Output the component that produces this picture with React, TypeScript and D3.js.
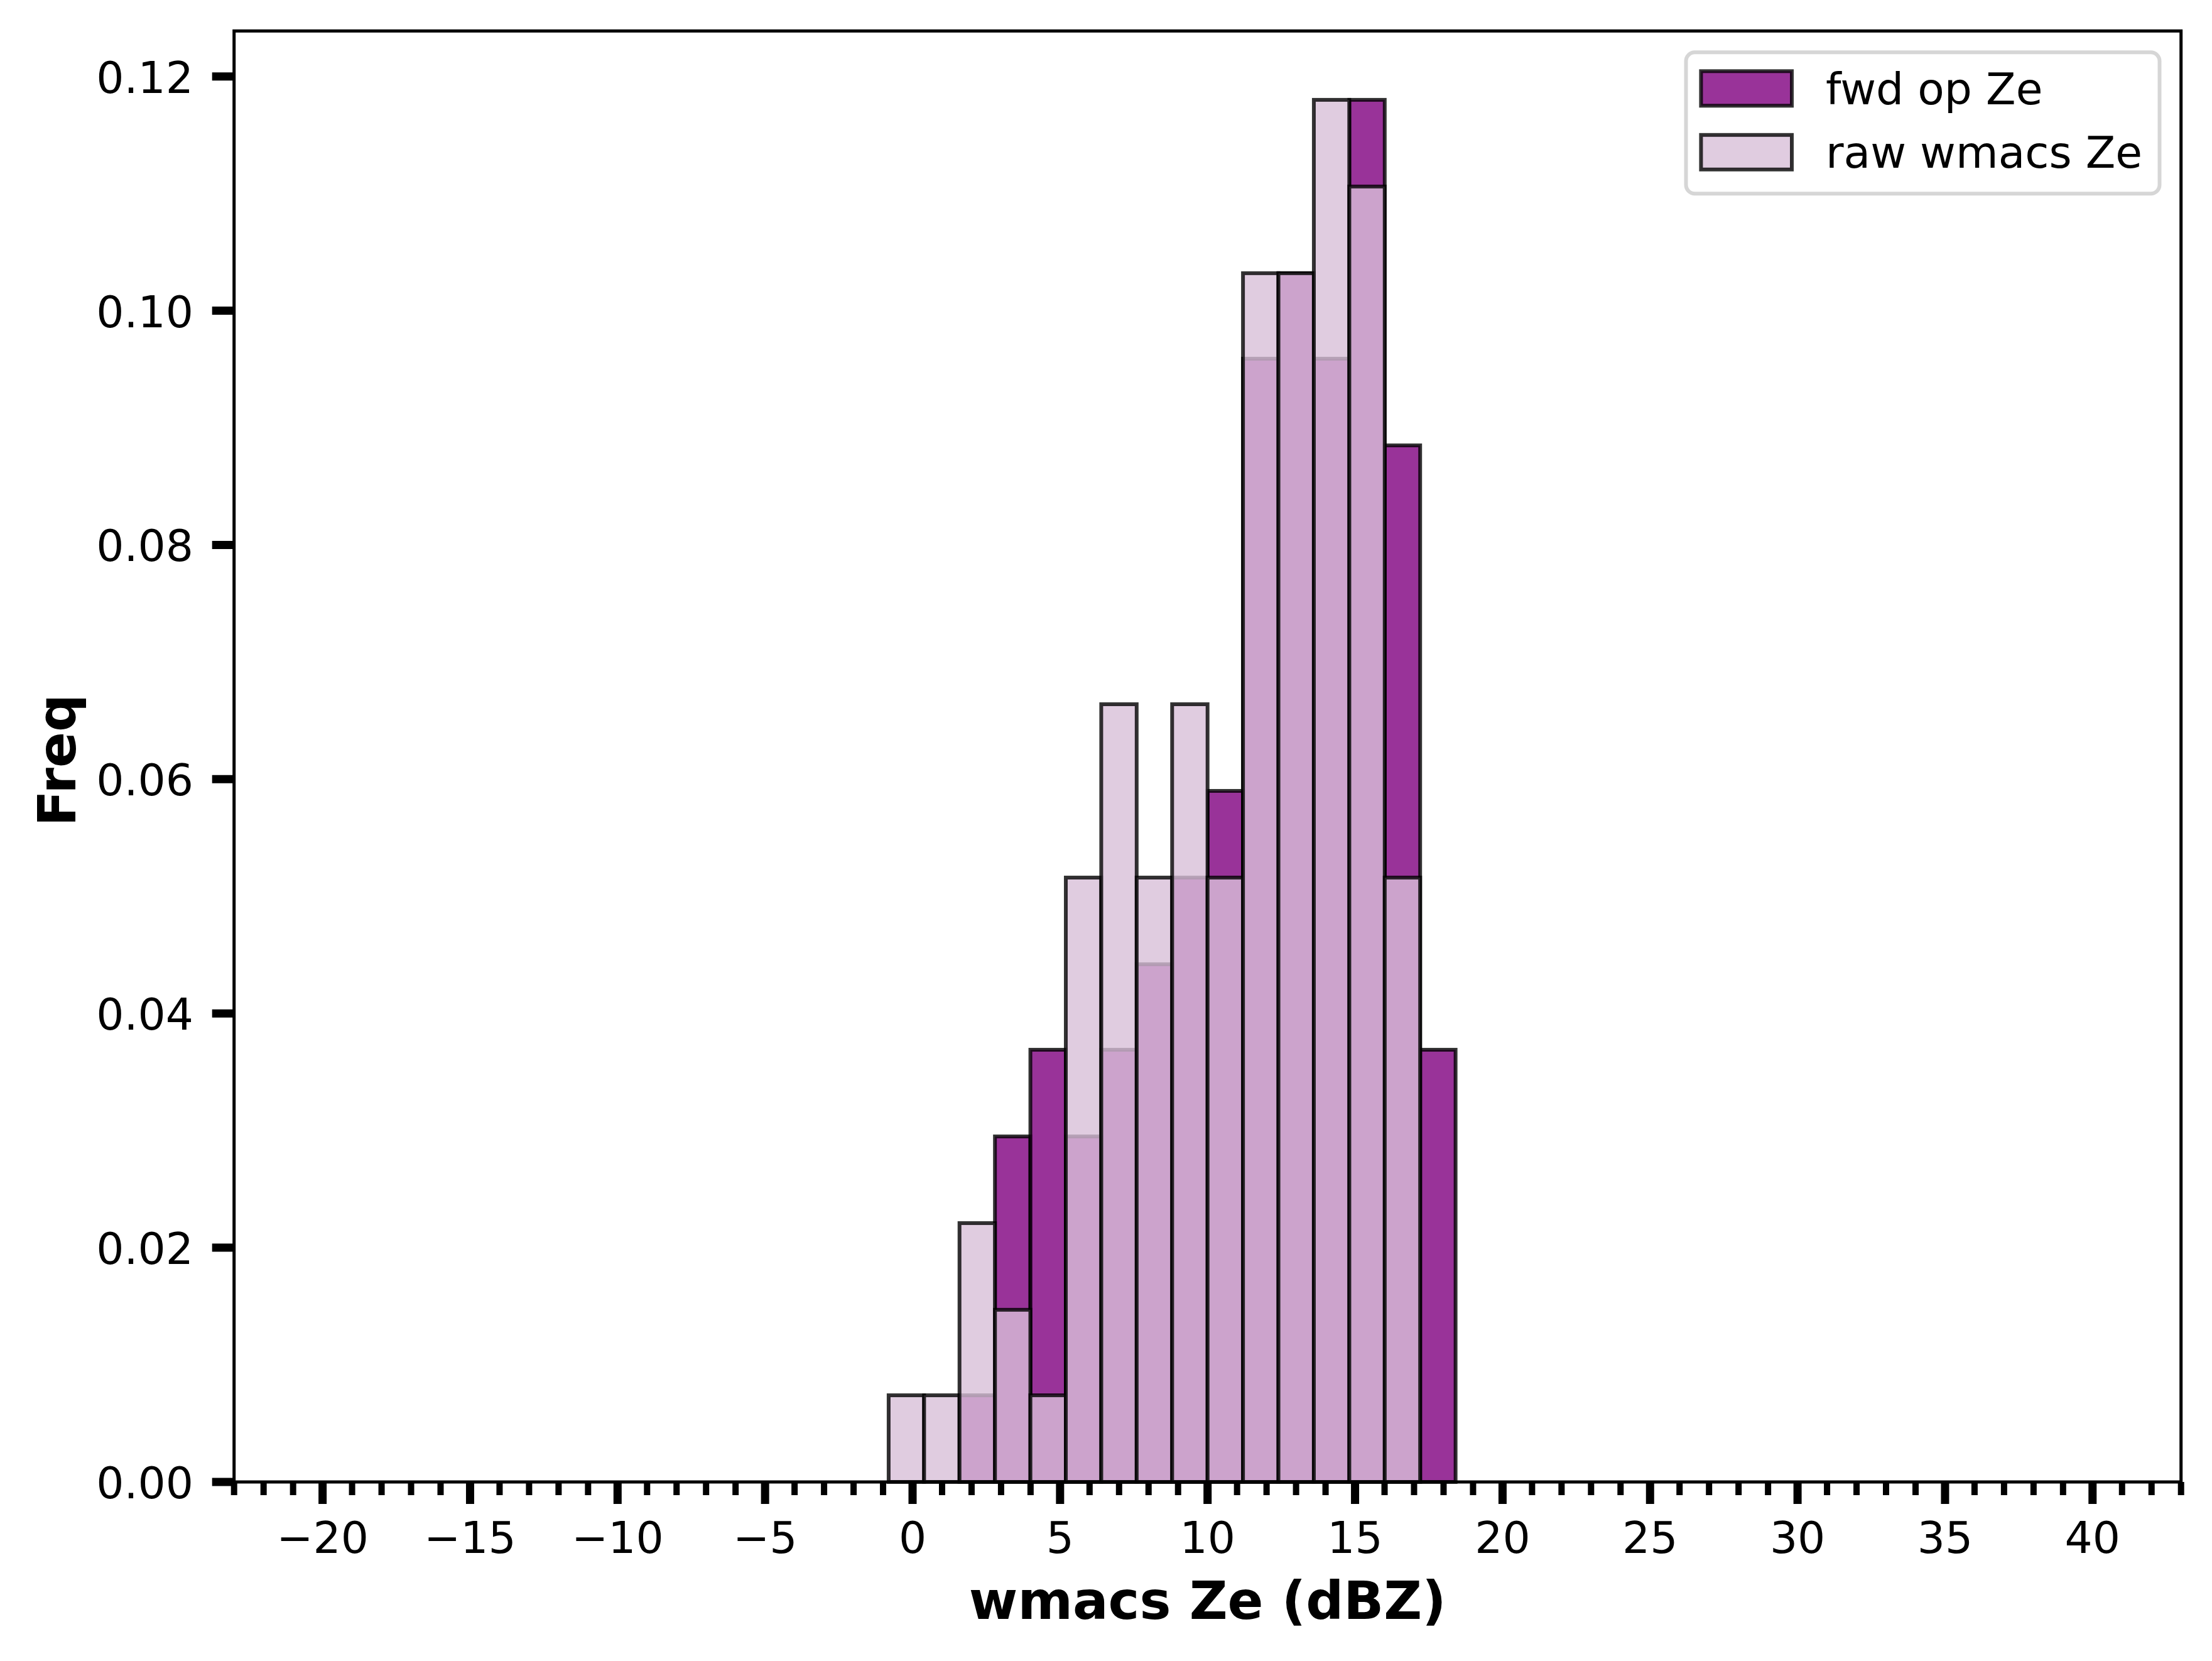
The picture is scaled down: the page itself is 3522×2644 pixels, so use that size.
import { useMemo } from 'react';
import * as d3 from 'd3';

const WIDTH = 3522;
const HEIGHT = 2644;
const BOUNDS = { left: 372.7, right: 3472.7, top: 49.3, bottom: 2359 };

// histogram bin edges (dBZ), 16 bins
const binEdges = [
  -0.811, 0.39, 1.591, 2.793, 3.994, 5.195, 6.396, 7.597, 8.799, 10.0, 11.201,
  12.402, 13.603, 14.805, 16.006, 17.207, 18.408,
];
// density per bin
const fwdFreq = [
  0, 0, 0.0074, 0.0295, 0.0369, 0.0295, 0.0369, 0.0442, 0.0516, 0.059, 0.0959,
  0.1032, 0.0959, 0.118, 0.0885, 0.0369,
];
const rawFreq = [
  0.0074, 0.0074, 0.0221, 0.0147, 0.0074, 0.0516, 0.0664, 0.0516, 0.0664,
  0.0516, 0.1032, 0.1032, 0.118, 0.1106, 0.0516, 0,
];

const xDomain = [-23, 43];
const yDomain = [0, 0.12388];
const xMajorTicks = [-20, -15, -10, -5, 0, 5, 10, 15, 20, 25, 30, 35, 40];
const yTicks = [0, 0.02, 0.04, 0.06, 0.08, 0.1, 0.12];

const series = [
  { label: 'fwd op Ze', values: fwdFreq, color: 'purple' },
  { label: 'raw wmacs Ze', values: rawFreq, color: 'thistle' },
];

const FONT = 'DejaVu Sans, sans-serif';

const App = () => {
  const xScale = useMemo(
    () => d3.scaleLinear().domain(xDomain).range([BOUNDS.left, BOUNDS.right]),
    []
  );
  const yScale = useMemo(
    () => d3.scaleLinear().domain(yDomain).range([BOUNDS.bottom, BOUNDS.top]),
    []
  );

  const minorTicks = d3
    .range(xDomain[0], xDomain[1] + 1, 1)
    .filter((t) => t % 5 !== 0);
  const fmtX = d3.format('d');
  const fmtY = d3.format('.2f');

  const bars = series.map((s, si) =>
    s.values.map((v, i) => {
      if (v <= 0) return null;
      const x0 = xScale(binEdges[i]);
      const x1 = xScale(binEdges[i + 1]);
      return (
        <rect
          key={si + '-' + i}
          x={x0}
          y={yScale(v)}
          width={x1 - x0}
          height={yScale(0) - yScale(v)}
          fill={s.color}
          fillOpacity={0.8}
          stroke="black"
          strokeOpacity={0.8}
          strokeWidth={6}
        />
      );
    })
  );

  return (
    <svg
      width={WIDTH}
      height={HEIGHT}
      style={{ position: 'absolute', left: 0, top: 0, background: 'white' }}
      fontFamily={FONT}
    >
      <rect x={0} y={0} width={WIDTH} height={HEIGHT} fill="white" />
      {bars}

      {/* spines */}
      <rect
        x={BOUNDS.left}
        y={BOUNDS.top}
        width={BOUNDS.right - BOUNDS.left}
        height={BOUNDS.bottom - BOUNDS.top}
        fill="none"
        stroke="black"
        strokeWidth={5}
      />

      {/* x ticks */}
      {minorTicks.map((t) => (
        <line
          key={'m' + t}
          x1={xScale(t)}
          x2={xScale(t)}
          y1={BOUNDS.bottom}
          y2={BOUNDS.bottom + 21}
          stroke="black"
          strokeWidth={10}
        />
      ))}
      {xMajorTicks.map((t) => (
        <g key={'x' + t}>
          <line
            x1={xScale(t)}
            x2={xScale(t)}
            y1={BOUNDS.bottom}
            y2={BOUNDS.bottom + 35}
            stroke="black"
            strokeWidth={13}
          />
          <text
            x={xScale(t)}
            y={2472}
            textAnchor="middle"
            fontSize={69.5}
            fill="black"
          >
            {fmtX(t)}
          </text>
        </g>
      ))}

      {/* y ticks */}
      {yTicks.map((t) => (
        <g key={'y' + t}>
          <line
            x1={BOUNDS.left - 35}
            x2={BOUNDS.left}
            y1={yScale(t)}
            y2={yScale(t)}
            stroke="black"
            strokeWidth={13}
          />
          <text
            x={308}
            y={yScale(t) + 26}
            textAnchor="end"
            fontSize={69.5}
            fill="black"
          >
            {fmtY(t)}
          </text>
        </g>
      ))}

      {/* axis labels */}
      <text
        x={(BOUNDS.left + BOUNDS.right) / 2}
        y={2577}
        textAnchor="middle"
        fontSize={84}
        fontWeight="bold"
        fill="black"
      >
        wmacs Ze (dBZ)
      </text>
      <text
        transform={`translate(120, ${(BOUNDS.top + BOUNDS.bottom) / 2 + 6}) rotate(-90)`}
        textAnchor="middle"
        fontSize={84}
        fontWeight="bold"
        fill="black"
      >
        Freq
      </text>

      {/* legend */}
      <rect
        x={2684.5}
        y={83.3}
        width={754}
        height={225}
        rx={14}
        fill="white"
        fillOpacity={0.8}
        stroke="#cccccc"
        strokeOpacity={0.8}
        strokeWidth={6}
      />
      {series.map((s, i) => (
        <g key={s.label} transform={`translate(0, ${i * 101.5})`}>
          <rect
            x={2708.4}
            y={113.3}
            width={144.6}
            height={55}
            fill={s.color}
            fillOpacity={0.8}
            stroke="black"
            strokeOpacity={0.8}
            strokeWidth={6}
          />
          <text x={2907} y={165.5} fontSize={69.5} fill="black">
            {s.label}
          </text>
        </g>
      ))}
    </svg>
  );
};

export default App;
